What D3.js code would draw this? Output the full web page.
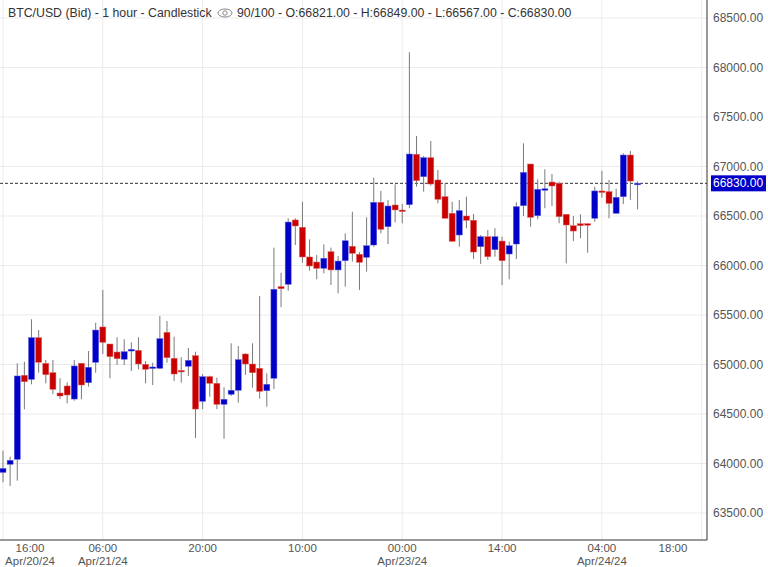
<!DOCTYPE html>
<html>
<head>
<meta charset="utf-8">
<script src="https://cdn.jsdelivr.net/npm/d3@7"></script>
<style>
  body { margin: 0; background: #fff; }
  text { font-family: "Liberation Sans", Arial, sans-serif; }
</style>
</head>
<body>
<svg id="chart" width="768" height="567"></svg>
<script>
// hourly candles starting Apr 20 2024 16:00
var opens  = [63910,63992,64042,64891,64850,65271,65012,64917,64712,64783,64651,65012,64816,65022,65379,65207,65126,65053,65136,65143,
              65002,64972,64962,65325,65063,64940,64982,65089,64628,64877,64810,64598,64699,64740,65106,65005,64962,64735,64861,65786,
              65810,66460,66386,66086,66035,65972,66139,65955,66048,66194,66113,66083,66207,66638,66392,66611,66560,66614,67123,66897,
              67089,66864,66695,66527,66308,66500,66457,66190,66291,66160,66247,66116,66217,66604,67025,66503,66765,66843,66830,66517,
              66402,66422,66422,66477,66753,66746,66527,66695,67116,66821];
var highs  = [64130,64069,65012,65028,65457,65348,65046,65046,64861,64820,65046,65012,65136,65422,65753,65207,65275,65255,65224,65275,
              65035,65018,65490,65439,65281,65073,65167,65129,64904,64887,64867,64770,65214,65187,65113,65214,65692,64911,66180,65927,
              66477,66477,66644,66264,66106,66214,66180,66096,66325,66543,66136,66487,66887,66753,66662,66820,66621,68154,67308,67106,
              67258,66965,66830,66644,66662,66695,66520,66308,66359,66376,66291,66240,66638,67234,67025,66871,66972,66924,66847,66517,
              66500,66517,66426,66796,66955,66864,66776,67133,67157,66849];
var lows   = [63810,63773,63826,64547,64800,64917,64810,64699,64651,64608,64634,64649,64776,64917,65106,64861,64995,64995,64934,64952,
              64810,64793,64952,65018,64833,64816,64884,64258,64550,64675,64550,64250,64682,64614,64894,64766,64655,64574,64753,65578,
              65745,66207,66028,65948,65861,65921,65803,65719,65786,66039,65753,65937,66190,66325,66217,66436,66426,66578,66796,66746,
              66806,66628,66477,66244,66190,66376,66066,66015,66055,66089,65803,65861,66066,66500,66392,66467,66578,66601,66426,66022,
              66247,66275,66130,66442,66685,66477,66527,66621,66662,66567];
var closes = [63950,64032,64884,64826,65271,65022,64897,64750,64682,64692,64985,64793,64972,65348,65224,65079,65059,65129,65153,65005,
              64952,64975,65261,65069,64904,64930,65042,64550,64877,64810,64598,64649,64740,65049,65005,64917,64729,64800,65760,65766,
              66439,66399,66086,65995,65972,66073,65955,66045,66250,66123,66032,66200,66638,66366,66601,66561,66550,67126,66857,67089,
              66823,66669,66477,66244,66554,66457,66136,66291,66089,66291,66048,66200,66594,66941,66487,66770,66775,66803,66493,66409,
              66348,66402,66415,66753,66745,66628,66689,67116,66853,66830];
var priceTicks = [63500,64000,64500,65000,65500,66000,66500,67000,67500,68000,68500];
var timeTicks = ["2024-04-20T16:00","2024-04-21T06:00","2024-04-21T20:00","2024-04-22T10:00",
                 "2024-04-23T00:00","2024-04-23T14:00","2024-04-24T04:00","2024-04-24T18:00"];
var lastPrice = 66830;

var svg = d3.select('#chart');
var plotR = 707, plotB = 540;
var t0 = new Date(2024, 3, 20, 16);
var parse = d3.timeParse('%Y-%m-%dT%H:%M');
var hour = function(i){ return new Date(t0.getTime() + i * 3600e3); };

var x = d3.scaleTime().domain([t0, parse(timeTicks[7])]).range([3, 701.7]);
var y = d3.scaleLinear().domain([63500, 68500]).range([513, 18]);

//* grid
svg.append('g').selectAll('line').data(priceTicks).enter().append('line')
  .attr('x1', 0).attr('x2', plotR)
  .attr('y1', function(d){ return y(d); }).attr('y2', function(d){ return y(d); })
  .attr('stroke', '#ebebeb');
svg.append('g').selectAll('line').data(timeTicks).enter().append('line')
  .attr('x1', function(d){ return x(parse(d)); }).attr('x2', function(d){ return x(parse(d)); })
  .attr('y1', 0).attr('y2', plotB)
  .attr('stroke', '#ebebeb');

//* last price line
svg.append('line')
  .attr('x1', 0).attr('x2', plotR).attr('y1', y(lastPrice)).attr('y2', y(lastPrice))
  .attr('stroke', '#333').attr('stroke-dasharray', '3,2');

//* candles
var candles = svg.append('g').selectAll('g').data(opens).enter().append('g');
candles.append('line')
  .attr('x1', function(d, i){ return x(hour(i)); }).attr('x2', function(d, i){ return x(hour(i)); })
  .attr('y1', function(d, i){ return y(highs[i]); }).attr('y2', function(d, i){ return y(lows[i]); })
  .attr('stroke', '#7a7a7a').attr('stroke-width', 1);
candles.append('rect')
  .attr('x', function(d, i){ return x(hour(i)) - 3; })
  .attr('width', 6)
  .attr('y', function(d, i){ return y(Math.max(d, closes[i])); })
  .attr('height', function(d, i){ return Math.max(1.5, Math.abs(y(d) - y(closes[i]))); })
  .attr('fill', function(d, i){ return closes[i] >= d ? '#0000c8' : '#c80000'; })
  .attr('stroke', function(d, i){ return closes[i] >= d ? '#6060e0' : '#e06060'; })
  .attr('stroke-width', 0.5);

//* axes frame
svg.append('line').attr('x1', plotR).attr('x2', plotR).attr('y1', 0).attr('y2', plotB).attr('stroke', '#333');
svg.append('line').attr('x1', 0).attr('x2', plotR).attr('y1', plotB).attr('y2', plotB).attr('stroke', '#333');

//* price labels
svg.append('g').selectAll('text').data(priceTicks).enter().append('text')
  .attr('x', 713).attr('y', function(d){ return y(d) + 4; })
  .attr('font-size', 12).attr('fill', '#555')
  .text(function(d){ return d3.format('.2f')(d); });

svg.append('rect').attr('x', 711).attr('y', y(lastPrice) - 8).attr('width', 55).attr('height', 16).attr('fill', '#0000c8');
svg.append('text').attr('x', 713).attr('y', y(lastPrice) + 4)
  .attr('font-size', 12).attr('fill', '#fff').text(d3.format('.2f')(lastPrice));

//* time labels
timeTicks.forEach(function(t, i) {
  var d = parse(t);
  var px = Math.min(Math.max(x(d), 30), 673);
  svg.append('text').attr('x', px).attr('y', 552).attr('text-anchor', 'middle')
    .attr('font-size', 11.5).attr('fill', '#555').text(d3.timeFormat('%H:%M')(d));
  if (d.getHours() < 10 || i === 0) {
    svg.append('text').attr('x', px).attr('y', 565).attr('text-anchor', 'middle')
      .attr('font-size', 11.5).attr('fill', '#555').text(d3.timeFormat('%b/%d/%y')(d));
  }
});

//* title
var title = svg.append('text').attr('x', 8).attr('y', 17).attr('font-size', 12.3).attr('fill', '#333');
title.append('tspan').text('BTC/USD (Bid) - 1 hour - Candlestick');
title.append('tspan').attr('x', 237).text('90/100 - O:66821.00 - H:66849.00 - L:66567.00 - C:66830.00');
var eye = svg.append('g').attr('transform', 'translate(225,13)');
eye.append('ellipse').attr('rx', 7).attr('ry', 4).attr('fill', 'none').attr('stroke', '#888');
eye.append('circle').attr('r', 2.2).attr('fill', 'none').attr('stroke', '#888');
</script>
</body>
</html>
